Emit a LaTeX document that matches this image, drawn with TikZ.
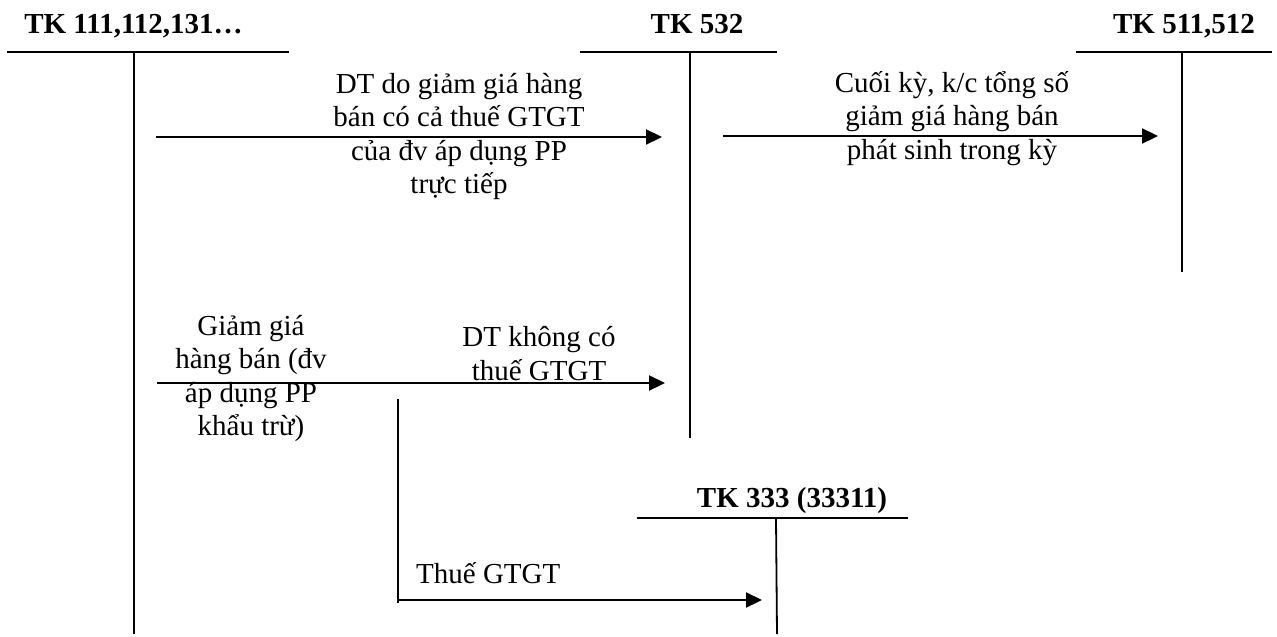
\documentclass[tikz,border=0pt]{standalone}
\usepackage{fontspec}
\setmainfont{Liberation Serif}
\usetikzlibrary{arrows.meta}
\begin{document}
\begin{tikzpicture}[x=1pt,y=-1pt,
  title/.style={font=\fontsize{29}{33}\selectfont\bfseries, inner sep=0pt, anchor=base},
  lbl/.style={font=\fontsize{29}{33.5}\selectfont, align=center, inner sep=0pt, anchor=base},
  tline/.style={line width=1.8pt},
  flow/.style={line width=2.2pt, -{Triangle[length=16pt,width=15pt]}}]
\useasboundingbox (0,0) rectangle (1277,637);
% TK 111
\node[title] (t1) at (133.5,33) {TK 111,112,131…};
\coordinate (a1l) at (7,52); \coordinate (a1r) at (289,52);
\coordinate (a1t) at (134,52); \coordinate (a1b) at (134,634);
\draw[tline] (a1l) -- (a1r); \draw[tline] (a1t) -- (a1b);
% TK 532
\node[title] (t2) at (697,33) {TK 532};
\coordinate (a2l) at (580,52); \coordinate (a2r) at (777,52);
\coordinate (a2t) at (690,52); \coordinate (a2b) at (690,438);
\draw[tline] (a2l) -- (a2r); \draw[tline] (a2t) -- (a2b);
% TK 511
\node[title] (t3) at (1184,33) {TK 511,512};
\coordinate (a3l) at (1076,52); \coordinate (a3r) at (1272,52);
\coordinate (a3t) at (1182,52); \coordinate (a3b) at (1182,272);
\draw[tline] (a3l) -- (a3r); \draw[tline] (a3t) -- (a3b);
% TK 333
\node[title] (t4) at (792,507) {TK 333 (33311)};
\coordinate (a4l) at (637,518); \coordinate (a4r) at (908,518);
\coordinate (a4t) at (776,518); \coordinate (a4b) at (777,634);
\draw[tline] (a4l) -- (a4r); \draw[tline] (a4t) -- (a4b);
% small vertical
\coordinate (s1) at (398,399); \coordinate (s2) at (398,603);
\draw[tline] (s1) -- (s2);
% arrows
\coordinate (f1a) at (156,137); \coordinate (f1b) at (662,137);
\draw[flow] (f1a) -- (f1b);
\coordinate (f2a) at (723,136); \coordinate (f2b) at (1158,136);
\draw[flow] (f2a) -- (f2b);
\coordinate (f3a) at (157,383); \coordinate (f3b) at (665,383);
\draw[flow] (f3a) -- (f3b);
\coordinate (f4a) at (398,600); \coordinate (f4b) at (762,600);
\draw[flow] (f4a) -- (f4b);
% labels (anchor base = baseline of last line)
\node[lbl] (l1) at (459,193.5) {DT do giảm giá hàng\\bán có cả thuế GTGT\\của đv áp dụng PP\\trực tiếp};
\node[lbl] (l2) at (952,159) {Cuối kỳ, k/c tổng số\\giảm giá hàng bán\\phát sinh trong kỳ};
\node[lbl] (l3) at (251,435.5) {Giảm giá\\hàng bán (đv\\áp dụng PP\\khẩu trừ)};
\node[lbl] (l4) at (539,380) {DT không có\\thuế GTGT};
\node[lbl, anchor=base west] (l5) at (416,583) {Thuế GTGT};
\end{tikzpicture}
\end{document}
